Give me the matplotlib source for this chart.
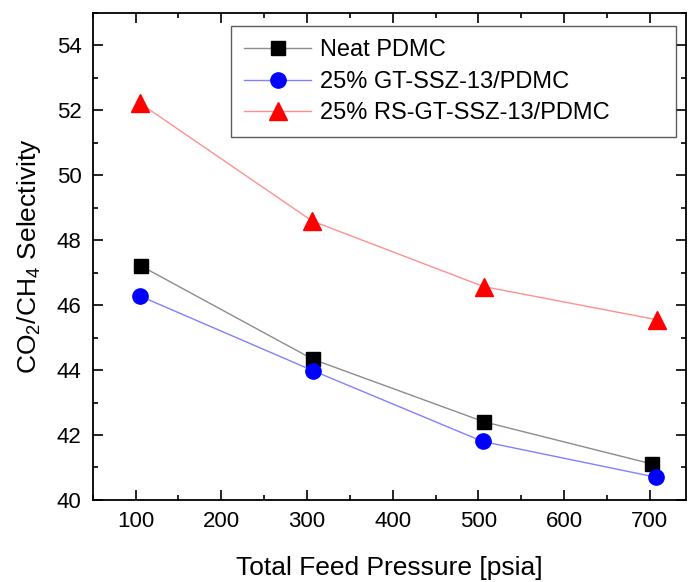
import matplotlib
matplotlib.use("Agg")
import matplotlib.pyplot as plt
from matplotlib.ticker import MultipleLocator

plt.rcParams['font.family'] = ['Liberation Sans', 'DejaVu Sans']
plt.rcParams['mathtext.fontset'] = 'custom'
plt.rcParams['mathtext.rm'] = 'Liberation Sans'

# Data
neat_x = [106, 307, 506, 702]
neat_y = [47.21, 44.33, 42.41, 41.11]
gt_x = [105, 307, 505, 707]
gt_y = [46.28, 43.98, 41.80, 40.70]
rs_x = [105, 306, 506, 708]
rs_y = [52.22, 48.59, 46.57, 45.55]
labels = ["Neat PDMC", "25% GT-SSZ-13/PDMC", "25% RS-GT-SSZ-13/PDMC"]
xticks = [100, 200, 300, 400, 500, 600, 700]
yticks = [40, 42, 44, 46, 48, 50, 52, 54]

fig = plt.figure(figsize=(6.89, 5.82), dpi=100)
ax = fig.add_axes([0.1345, 0.141, 0.861, 0.837])

ax.plot(neat_x, neat_y, color='#8c8c8c', lw=1.0, marker='s', ms=10,
        mfc='black', mec='black', label=labels[0])
ax.plot(gt_x, gt_y, color='#8080ff', lw=1.0, marker='o', ms=11,
        mfc='blue', mec='blue', label=labels[1])
ax.plot(rs_x, rs_y, color='#ff9090', lw=1.0, marker='^', ms=13,
        mfc='red', mec='red', label=labels[2])

ax.set_xlim(50, 742)
ax.set_ylim(40, 55)
ax.set_xticks(xticks)
ax.set_yticks(yticks)
ax.xaxis.set_minor_locator(MultipleLocator(50))
ax.yaxis.set_minor_locator(MultipleLocator(1))
ax.tick_params(which='both', direction='in', top=True, right=True,
               labeltop=False, labelright=False, width=1.2, labelsize=16)
ax.tick_params(which='major', length=7, pad=8)
ax.tick_params(which='minor', length=3.8)
for s in ax.spines.values():
    s.set_linewidth(1.3)

ax.set_xlabel("Total Feed Pressure [psia]", fontsize=19, labelpad=17)
ax.set_ylabel("CO$_2$/CH$_4$ Selectivity", fontsize=19, labelpad=10)

leg = ax.legend(loc='upper left', bbox_to_anchor=(0.234, 0.754, 0.75, 0.218),
                mode='expand', fontsize=17,
                frameon=True, fancybox=False, edgecolor='#333333',
                handlelength=2.8, handletextpad=0.4, borderpad=0.55,
                labelspacing=0.4, borderaxespad=0)
leg.get_frame().set_linewidth(1.0)

fig.savefig("out.png", dpi=100)
